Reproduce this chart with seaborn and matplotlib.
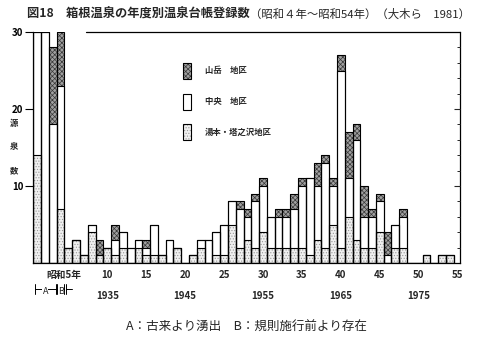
import matplotlib
matplotlib.use("Agg")
import matplotlib.pyplot as plt
from matplotlib.patches import Rectangle
from matplotlib.lines import Line2D
from matplotlib.transforms import blended_transform_factory, ScaledTranslation
import pandas as pd
import seaborn as sns

# Bar slots 1-4: springs registered before yearly records (A / B groups);
# slots 5-54: Showa years 5 to 54.
positions = list(range(1, 55))

yumoto = [14, 0, 0, 7,
          2, 3, 1, 4, 1, 2, 1, 2, 0, 2,
          1, 1, 1, 0, 2, 0, 1, 2, 0, 1,
          1, 5, 2, 3, 2, 4, 2, 2, 2, 2,
          2, 1, 3, 2, 5, 2, 6, 3, 2, 2,
          4, 0, 2, 2, 0, 0, 1, 0, 1, 1]
chuo = [16, 30, 18, 16,
        0, 0, 0, 1, 0, 0, 2, 2, 2, 1,
        1, 4, 0, 3, 0, 0, 0, 1, 3, 3,
        4, 3, 5, 3, 6, 6, 4, 4, 4, 5,
        8, 10, 7, 11, 5, 23, 5, 13, 4, 4,
        4, 1, 3, 4, 0, 0, 0, 0, 0, 0]
sangaku = [0, 0, 10, 7,
           0, 0, 0, 0, 2, 0, 2, 0, 0, 0,
           1, 0, 0, 0, 0, 0, 0, 0, 0, 0,
           0, 0, 1, 1, 1, 1, 0, 1, 1, 2,
           1, 0, 3, 1, 1, 2, 6, 2, 4, 1,
           1, 3, 0, 1, 0, 0, 0, 0, 0, 0]

tick_years = [5, 10, 15, 20, 25, 30, 35, 40, 45, 50, 55]
tick_labels = ["昭和5年", "10", "15", "20", "25", "30", "35", "40", "45", "50", "55"]
western_years = [1935, 1945, 1955, 1965, 1975]
western_pos = [10, 20, 30, 40, 50]

legend_labels = ["山岳　地区", "中央　地区", "湯本・塔之沢地区"]

df = pd.DataFrame({"pos": positions, "yumoto": yumoto, "chuo": chuo, "sangaku": sangaku})
df["lower"] = df["yumoto"]
df["middle"] = df["yumoto"] + df["chuo"]
df["total"] = df["middle"] + df["sangaku"]

sns.set_theme(style="ticks")
plt.rcParams["font.family"] = ["Noto Sans CJK JP", "DejaVu Sans"]
plt.rcParams["hatch.linewidth"] = 0.5

W, H = 500, 350
fig = plt.figure(figsize=(5, 3.5), dpi=100)
fig.patch.set_facecolor("white")
ax = fig.add_axes([33.3 / W, 1 - 263 / H, (460 - 33.3) / W, (263 - 32) / H])
ax.set_facecolor("white")

STYLE_SANGAKU = dict(facecolor="#a0a0a0", edgecolor="#383838", hatch="xxxxxxx", linewidth=0)
STYLE_CHUO = dict(facecolor="white", edgecolor="white", hatch=None, linewidth=0)
STYLE_YUMOTO = dict(facecolor="#f0f0f0", edgecolor="#9a9a9a", hatch="......", linewidth=0)


def bar_layer(col, style=None, outline=False):
    n0 = len(ax.patches)
    sns.barplot(data=df, x="pos", y=col, native_scale=True, width=1.0,
                errorbar=None, saturation=1, color="gray", ax=ax)
    for p in ax.patches[n0:]:
        if outline:
            p.set_facecolor("none")
            p.set_edgecolor("black")
            p.set_linewidth(0.8)
        else:
            p.set_facecolor(style["facecolor"])
            p.set_edgecolor(style["edgecolor"])
            p.set_linewidth(style["linewidth"])
            if style["hatch"]:
                p.set_hatch(style["hatch"])


# stacked segments: draw cumulative heights from the top down
bar_layer("total", STYLE_SANGAKU)
bar_layer("middle", STYLE_CHUO)
bar_layer("lower", STYLE_YUMOTO)
for col in ["total", "middle", "lower"]:
    bar_layer(col, outline=True)

ax.set_xlim(0.5, 55.3)
ax.set_ylim(0, 30)
ax.set_xlabel("")
ax.set_ylabel("")
for s in ax.spines.values():
    s.set_visible(True)
    s.set_color("black")
    s.set_linewidth(0.9)
# the top frame line starts to the right of the tall early bars
ax.spines["top"].set_visible(False)
ax.add_line(Line2D([7.3, 55.3], [30, 30], color="black", lw=0.9, clip_on=False))

# x axis: labels only
ax.set_xticks(tick_years)
ax.set_xticklabels(tick_labels, fontsize=7, fontweight="bold")
ax.tick_params(axis="x", length=0, pad=5)
first = ax.get_xticklabels()[0]
first.set_transform(first.get_transform() + ScaledTranslation(-4.5 / 100, 0, fig.dpi_scale_trans))

# left y axis
ax.set_yticks([10, 20, 30])
ax.set_yticklabels(["10", "20", "30"], fontsize=7, fontweight="bold")
ax.set_yticks(list(range(2, 30, 2)), minor=True)
ax.tick_params(axis="y", which="major", direction="out", length=6, width=0.8, pad=1, colors="black")
ax.tick_params(axis="y", which="minor", direction="in", length=2, width=0.7)

# right y axis with inward ticks
ax2 = ax.twinx()
ax2.set_ylim(0, 30)
ax2.set_yticks([10, 20])
ax2.set_yticks(list(range(2, 30, 2)), minor=True)
ax2.tick_params(axis="y", which="major", direction="in", length=4.5, width=0.8, labelright=False)
ax2.tick_params(axis="y", which="minor", direction="in", length=2.2, width=0.7)
ax2.grid(False)
for s in ax2.spines.values():
    s.set_visible(False)

# western calendar years under the axis
tr = blended_transform_factory(ax.transData, fig.transFigure)
for p, yr in zip(western_pos, western_years):
    ax.text(p, 1 - 296 / H, str(yr), transform=tr, ha="center", va="center",
            fontsize=7, fontweight="bold")

# A / B bracket marks under the first slots
yb = 1 - 289 / H
def bracket(x0, x1, letter):
    ax.add_line(Line2D([x0, x1], [yb, yb], transform=tr, color="black", lw=0.7, clip_on=False))
    for xx in (x0, x1):
        ax.add_line(Line2D([xx, xx], [yb - 5 / H, yb + 5 / H], transform=tr, color="black",
                           lw=0.7, clip_on=False))
    ax.text((x0 + x1) / 2, yb - 3 / H, letter, transform=tr, ha="center", va="center",
            fontsize=6.5,
            bbox=dict(facecolor="white", edgecolor="none", pad=0.2))

bracket(0.7, 3.4, "A")
bracket(3.6, 4.5, "B")
ax.add_line(Line2D([4.7, 4.7], [yb - 5 / H, yb + 5 / H], transform=tr, color="black", lw=0.7, clip_on=False))
ax.add_line(Line2D([4.7, 5.5], [yb, yb], transform=tr, color="black", lw=0.7, clip_on=False))

# vertical axis title, one character per line
for ch, ypx in zip("源泉数", [123, 147, 171]):
    fig.text(14 / W, 1 - ypx / H, ch, ha="center", va="center", fontsize=6, fontweight="bold")

# legend swatches
styles = [STYLE_SANGAKU, STYLE_CHUO, STYLE_YUMOTO]
for st, lab, ytop in zip(styles, legend_labels, [63, 94, 124]):
    r = Rectangle((183 / W, 1 - (ytop + 16) / H), 8 / W, 16 / H, transform=fig.transFigure,
                  facecolor=st["facecolor"], edgecolor=st["edgecolor"], linewidth=0,
                  hatch=st["hatch"])
    fig.add_artist(r)
    fig.add_artist(Rectangle((183 / W, 1 - (ytop + 16) / H), 8 / W, 16 / H, transform=fig.transFigure,
                             facecolor="none", edgecolor="black", linewidth=0.8))
    fig.text(205 / W, 1 - (ytop + 8) / H, lab, ha="left", va="center", fontsize=6, fontweight="bold")

# title
fig.text(27 / W, 1 - 14 / H, "図18　箱根温泉の年度別温泉台帳登録数", ha="left", va="center",
         fontsize=8.8, fontweight="bold")
fig.text(250 / W, 1 - 14 / H, "（昭和４年～昭和54年）（大木ら　1981）", ha="left", va="center",
         fontsize=8.2)

# footnote
fig.text(246 / W, 1 - 327 / H, "A：古来より湧出　B：規則施行前より存在", ha="center", va="center",
         fontsize=9)

fig.savefig("out.png", dpi=100, facecolor="white")
